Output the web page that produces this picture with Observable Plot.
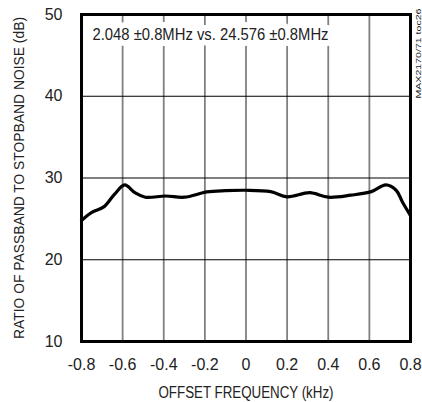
<!DOCTYPE html>
<html><head><meta charset="utf-8">
<script src="https://cdn.jsdelivr.net/npm/d3@7"></script>
<script src="https://cdn.jsdelivr.net/npm/@observablehq/plot@0.6"></script>
<style>
html,body{margin:0;padding:0;background:#fff;}
</style>
</head><body>
<div id="chart"></div>
<script>
const freq = [-0.8, -0.75, -0.69, -0.64, -0.59, -0.54, -0.49, -0.39, -0.30, -0.19, -0.10, 0.0, 0.12, 0.2, 0.31, 0.40, 0.51, 0.61, 0.68, 0.73, 0.76, 0.8];
const ratio = [24.8, 25.8, 26.5, 28.0, 29.15, 28.2, 27.65, 27.8, 27.65, 28.3, 28.45, 28.5, 28.33, 27.7, 28.2, 27.65, 27.9, 28.33, 29.15, 28.5, 27.1, 25.4];
const xTicks = [-0.8, -0.6, -0.4, -0.2, 0, 0.2, 0.4, 0.6, 0.8];
const yTicks = [10, 20, 30, 40, 50];
const yGrid = [20, 30, 40];
const titleText = "2.048 ±0.8MHz vs. 24.576 ±0.8MHz";
const sideText = "MAX2170/71 toc26";
const xLabel = "OFFSET FREQUENCY (kHz)";
const yLabel = "RATIO OF PASSBAND TO STOPBAND NOISE (dB)";

const data = freq.map((f, i) => ({f, r: ratio[i]}));
const font = "'Liberation Sans', Arial, sans-serif";

const chart = Plot.plot({
  width: 422,
  height: 402,
  marginLeft: 81,
  marginRight: 12,
  marginTop: 14,
  marginBottom: 61,
  style: {fontFamily: font, fontSize: "16px", color: "#222", background: "#fff"},
  x: {domain: [-0.8, 0.8]},
  y: {domain: [10, 50]},
  marks: [
    Plot.ruleX(xTicks.slice(1, -1), {stroke: "#808080", strokeWidth: 1.8}),
    Plot.ruleY(yGrid, {stroke: "#000", strokeWidth: 1}),
    Plot.text([titleText], {frameAnchor: "top-left", dx: 11, dy: 14, textAnchor: "start", fontSize: 16.5, fill: "#222", stroke: "#fff", strokeWidth: 12, strokeLinejoin: "round", strokeOpacity: 1, className: "title-note"}),
    Plot.line(data, {x: "f", y: "r", curve: "catmull-rom", stroke: "#000", strokeWidth: 3.2}),
    Plot.frame({stroke: "#000", strokeWidth: 3}),
    Plot.text([sideText], {frameAnchor: "top-right", dx: 4.5, dy: -6, rotate: -90, textAnchor: "end", fontSize: 8, fill: "#222", className: "side-note"}),
    Plot.axisX({ticks: xTicks, tickSize: 0, tickPadding: 17, fontSize: 16, tickFormat: d => d === 0 ? "0" : d3.format(".1f")(d).replace("−", "-"), label: xLabel, labelAnchor: "center", labelArrow: "none", labelOffset: 56}),
    Plot.axisY({ticks: yTicks, tickSize: 0, tickPadding: 19, fontSize: 16, label: yLabel, labelAnchor: "center", labelArrow: "none", labelOffset: 68})
  ]
});
document.getElementById("chart").appendChild(chart);

// condense text widths to match the narrow typeface of the original
const fit = (sel, len, size) => {
  chart.querySelectorAll(sel).forEach(t => {
    if (size) t.setAttribute("font-size", size);
    t.setAttribute("textLength", len);
    t.setAttribute("lengthAdjust", "spacingAndGlyphs");
  });
};
fit('.title-note text', 236);
fit('.side-note text', 90);
fit('g[aria-label="x-axis label"] text', 175);
fit('g[aria-label="y-axis label"] text', 322, 14.5);
</script>
</body></html>
